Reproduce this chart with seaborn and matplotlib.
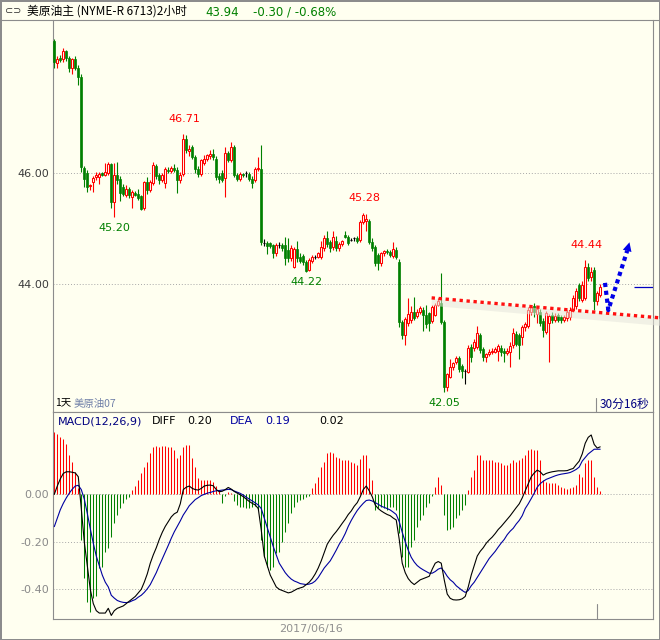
import numpy as np
import matplotlib
matplotlib.use('Agg')
import matplotlib.pyplot as plt
from matplotlib.lines import Line2D
import seaborn as sns

# 2-hour candles, NYMEX crude
opens = [48.38, 47.98, 48.08, 48.05, 48.20, 48.07, 47.90, 48.05, 47.90, 47.73,
         46.09, 46.00, 45.76, 45.84, 45.93, 45.92, 46.00, 45.97, 46.00, 46.16,
         45.47, 45.96, 45.90, 45.75, 45.60, 45.72, 45.57, 45.64, 45.62, 45.58,
         45.37, 45.84, 45.70, 45.82, 46.12, 45.97, 45.88, 45.82, 46.06, 46.04,
         46.09, 46.06, 45.87, 45.98, 46.61, 46.39, 46.46, 46.29, 46.08, 45.99,
         46.18, 46.26, 46.30, 46.35, 46.25, 45.95, 46.00, 45.91, 46.36, 46.24,
         46.47, 45.96, 45.90, 45.98, 46.00, 45.99, 45.90, 45.87, 46.07, 46.07,
         44.74, 44.74, 44.73, 44.70, 44.55, 44.70, 44.71, 44.70, 44.62, 44.47,
         44.30, 44.63, 44.49, 44.50, 44.40, 44.26, 44.42, 44.49, 44.49, 44.48,
         44.65, 44.83, 44.76, 44.66, 44.77, 44.64, 44.72, 44.88, 44.85, 44.80,
         44.82, 44.83, 44.80, 45.12, 45.14, 45.14, 44.76, 44.67, 44.52, 44.37,
         44.55, 44.60, 44.58, 44.50, 44.62, 44.40, 43.32, 43.08, 43.30, 43.36,
         43.50, 43.42, 43.50, 43.53, 43.45, 43.47, 43.33, 43.45, 43.63, 43.66,
         43.32, 42.15, 42.33, 42.50, 42.60, 42.66, 42.52, 42.43, 42.42, 42.87,
         42.84, 42.87, 43.08, 42.82, 42.68, 42.74, 42.77, 42.78, 42.80, 42.85,
         42.80, 42.76, 42.77, 42.90, 43.10, 43.08, 43.04, 43.22, 43.25, 43.50,
         43.60, 43.46, 43.50, 43.33, 43.14, 43.30, 43.45, 43.36, 43.44, 43.40,
         43.36, 43.38, 43.40, 43.53, 43.60, 43.98, 43.72, 43.75, 44.30, 44.12,
         44.25, 43.70, 43.80]
highs = [48.42, 48.10, 48.12, 48.25, 48.22, 48.10, 48.08, 48.10, 47.95, 47.78,
         46.12, 46.05, 45.80, 45.95, 46.02, 46.01, 46.02, 46.18, 46.20, 46.18,
         46.18, 46.20, 45.95, 45.80, 45.78, 45.75, 45.70, 45.68, 45.72, 45.60,
         45.86, 45.93, 45.87, 46.20, 46.16, 46.00, 46.00, 46.10, 46.10, 46.12,
         46.16, 46.10, 46.02, 46.71, 46.68, 46.50, 46.50, 46.32, 46.12, 46.26,
         46.32, 46.35, 46.41, 46.44, 46.30, 46.00, 46.05, 46.47, 46.40, 46.56,
         46.50, 46.00, 46.02, 46.00, 46.03, 46.02, 45.94, 46.10, 46.29, 46.50,
         44.81, 44.78, 44.76, 44.72, 44.74, 44.76, 44.74, 44.85, 44.82, 44.70,
         44.66, 44.78, 44.55, 44.54, 44.43, 44.46, 44.52, 44.52, 44.58, 44.78,
         44.88, 44.95, 44.80, 44.96, 44.86, 44.75, 44.80, 44.95, 44.88, 44.83,
         44.85, 44.86, 45.15, 45.28, 45.26, 45.18, 44.82, 44.70, 44.56, 44.58,
         44.62, 44.63, 44.62, 44.76, 44.66, 44.45, 43.36, 43.40, 43.75, 43.60,
         43.77, 43.55, 43.60, 43.58, 43.62, 43.50, 43.62, 43.66, 43.74, 44.20,
         43.35, 42.40, 42.65, 42.60, 42.70, 42.70, 42.56, 42.46, 42.90, 42.92,
         43.00, 43.25, 43.12, 42.86, 42.76, 42.82, 42.84, 42.86, 42.92, 42.90,
         42.84, 42.84, 42.95, 43.20, 43.15, 43.12, 43.26, 43.32, 43.58, 43.62,
         43.66, 43.60, 43.55, 43.38, 43.52, 43.46, 43.50, 43.47, 43.48, 43.44,
         43.44, 43.54, 43.58, 43.80, 43.92, 44.02, 44.05, 44.44, 44.38, 44.30,
         44.30, 43.88, 44.00]
lows = [47.90, 47.90, 48.00, 48.00, 48.02, 47.82, 47.78, 47.85, 47.58, 46.02,
        45.75, 45.66, 45.70, 45.66, 45.88, 45.80, 45.94, 45.94, 45.96, 45.37,
        45.20, 45.80, 45.50, 45.58, 45.56, 45.55, 45.37, 45.58, 45.52, 45.33,
        45.34, 45.62, 45.66, 45.78, 45.90, 45.80, 45.84, 45.73, 46.00, 46.00,
        46.02, 45.64, 45.82, 45.95, 46.36, 46.30, 46.25, 46.00, 45.93, 45.95,
        46.14, 46.22, 46.26, 46.24, 45.88, 45.82, 45.84, 45.57, 46.20, 46.20,
        45.92, 45.85, 45.86, 45.92, 45.92, 45.85, 45.73, 45.84, 46.04, 44.70,
        44.68, 44.54, 44.65, 44.46, 44.50, 44.65, 44.60, 44.35, 44.40, 44.42,
        44.28, 44.40, 44.38, 44.35, 44.22, 44.24, 44.38, 44.45, 44.46, 44.45,
        44.60, 44.66, 44.58, 44.62, 44.60, 44.60, 44.68, 44.82, 44.70, 44.77,
        44.78, 44.74, 44.76, 45.08, 44.95, 44.72, 44.60, 44.33, 44.25, 44.33,
        44.50, 44.54, 44.48, 44.46, 44.45, 43.23, 43.00, 42.90, 43.25, 43.30,
        43.35, 43.38, 43.46, 43.15, 43.20, 43.15, 43.30, 43.42, 43.60, 43.28,
        42.05, 42.08, 42.30, 42.45, 42.56, 42.42, 42.30, 42.20, 42.40, 42.60,
        42.80, 42.82, 42.75, 42.62, 42.60, 42.70, 42.74, 42.75, 42.62, 42.70,
        42.60, 42.72, 42.50, 42.85, 42.88, 42.65, 42.90, 43.15, 43.20, 43.45,
        43.40, 43.30, 43.25, 43.05, 43.10, 42.60, 43.30, 43.32, 43.32, 43.30,
        43.32, 43.34, 43.36, 43.50, 43.55, 43.70, 43.68, 43.72, 44.05, 44.05,
        43.53, 43.62, 43.76]
closes = [48.00, 48.06, 48.04, 48.20, 48.07, 47.90, 48.05, 47.90, 47.73, 46.10,
          45.90, 45.75, 45.79, 45.91, 45.97, 45.98, 45.97, 46.02, 46.16, 45.47,
          45.96, 45.87, 45.64, 45.62, 45.72, 45.60, 45.66, 45.61, 45.55, 45.35,
          45.84, 45.70, 45.84, 46.14, 45.94, 45.88, 45.97, 46.07, 46.04, 46.09,
          46.05, 45.87, 45.97, 46.61, 46.41, 46.43, 46.29, 46.07, 45.99, 46.23,
          46.25, 46.32, 46.35, 46.28, 45.92, 45.90, 45.88, 46.36, 46.24, 46.47,
          45.96, 45.90, 45.98, 45.96, 46.00, 45.90, 45.82, 46.07, 46.09, 44.76,
          44.74, 44.69, 44.69, 44.56, 44.71, 44.70, 44.65, 44.47, 44.46, 44.64,
          44.63, 44.47, 44.42, 44.40, 44.24, 44.43, 44.49, 44.49, 44.55, 44.67,
          44.83, 44.72, 44.65, 44.85, 44.64, 44.72, 44.77, 44.85, 44.73, 44.80,
          44.82, 44.77, 45.12, 45.24, 45.17, 44.76, 44.65, 44.38, 44.38, 44.55,
          44.60, 44.57, 44.52, 44.63, 44.49, 43.32, 43.08, 43.37, 43.46, 43.50,
          43.38, 43.50, 43.56, 43.45, 43.28, 43.30, 43.59, 43.63, 43.69, 43.32,
          42.15, 42.37, 42.50, 42.57, 42.67, 42.46, 42.44, 42.43, 42.85, 42.68,
          42.95, 43.12, 42.81, 42.68, 42.73, 42.78, 42.80, 42.83, 42.88, 42.77,
          42.76, 42.80, 42.88, 43.12, 42.92, 42.90, 43.22, 43.28, 43.53, 43.58,
          43.50, 43.55, 43.30, 43.17, 43.48, 43.42, 43.36, 43.43, 43.36, 43.35,
          43.40, 43.50, 43.53, 43.74, 43.88, 43.75, 43.98, 44.30, 44.10, 44.22,
          43.70, 43.83, 43.94]

# MACD(12,26,9) panel
diff = [0.000, 0.035, 0.065, 0.088, 0.095, 0.095, 0.093, 0.090, 0.074, -0.060,
        -0.200, -0.300, -0.400, -0.460, -0.490, -0.500, -0.500, -0.500, -0.480, -0.510,
        -0.490, -0.480, -0.475, -0.470, -0.460, -0.450, -0.440, -0.430, -0.415, -0.400,
        -0.370, -0.335, -0.290, -0.255, -0.225, -0.190, -0.160, -0.135, -0.115, -0.095,
        -0.082, -0.075, -0.040, 0.020, 0.030, 0.035, 0.025, 0.020, 0.018, 0.025,
        0.035, 0.038, 0.039, 0.036, 0.020, 0.011, 0.013, 0.020, 0.029, 0.022,
        0.012, 0.005, -0.002, -0.010, -0.020, -0.030, -0.038, -0.045, -0.060, -0.150,
        -0.260, -0.300, -0.340, -0.365, -0.390, -0.400, -0.405, -0.410, -0.415, -0.412,
        -0.405, -0.398, -0.394, -0.390, -0.380, -0.370, -0.355, -0.335, -0.310, -0.280,
        -0.245, -0.210, -0.190, -0.172, -0.157, -0.140, -0.122, -0.105, -0.085, -0.070,
        -0.050, -0.035, -0.010, 0.020, 0.035, 0.015, -0.010, -0.045, -0.060, -0.070,
        -0.078, -0.085, -0.090, -0.100, -0.108, -0.190, -0.290, -0.330, -0.355, -0.370,
        -0.380, -0.370, -0.360, -0.355, -0.350, -0.345, -0.315, -0.290, -0.283, -0.290,
        -0.360, -0.420, -0.438, -0.444, -0.445, -0.444, -0.440, -0.430, -0.390, -0.340,
        -0.300, -0.260, -0.240, -0.225, -0.206, -0.192, -0.180, -0.165, -0.148, -0.135,
        -0.120, -0.105, -0.090, -0.073, -0.056, -0.040, -0.015, 0.015, 0.045, 0.074,
        0.090, 0.102, 0.095, 0.081, 0.088, 0.092, 0.095, 0.097, 0.099, 0.099,
        0.099, 0.100, 0.105, 0.109, 0.125, 0.140, 0.170, 0.215, 0.240, 0.250,
        0.210, 0.195, 0.200]
dea = [-0.136, -0.100, -0.065, -0.038, -0.015, 0.005, 0.022, 0.035, 0.038, 0.020,
       -0.020, -0.080, -0.145, -0.206, -0.260, -0.300, -0.340, -0.370, -0.390, -0.425,
       -0.437, -0.447, -0.452, -0.455, -0.456, -0.454, -0.448, -0.443, -0.433, -0.425,
       -0.413, -0.398, -0.380, -0.355, -0.330, -0.300, -0.272, -0.243, -0.215, -0.185,
       -0.158, -0.135, -0.112, -0.087, -0.068, -0.048, -0.035, -0.022, -0.014, -0.005,
       0.000, 0.005, 0.008, 0.012, 0.015, 0.016, 0.018, 0.019, 0.021, 0.020,
       0.014, 0.009, 0.004, -0.003, -0.012, -0.020, -0.028, -0.036, -0.045, -0.060,
       -0.100, -0.140, -0.180, -0.220, -0.255, -0.290, -0.310, -0.330, -0.345, -0.357,
       -0.365, -0.370, -0.376, -0.378, -0.380, -0.378, -0.374, -0.365, -0.350, -0.330,
       -0.310, -0.295, -0.280, -0.258, -0.235, -0.210, -0.190, -0.165, -0.135, -0.110,
       -0.088, -0.068, -0.052, -0.038, -0.026, -0.024, -0.028, -0.035, -0.042, -0.050,
       -0.055, -0.060, -0.066, -0.075, -0.085, -0.115, -0.160, -0.200, -0.235, -0.265,
       -0.285, -0.300, -0.310, -0.318, -0.325, -0.332, -0.332, -0.325, -0.315, -0.310,
       -0.325, -0.345, -0.360, -0.370, -0.385, -0.395, -0.405, -0.413, -0.405, -0.385,
       -0.370, -0.350, -0.330, -0.310, -0.290, -0.270, -0.255, -0.240, -0.222, -0.205,
       -0.190, -0.170, -0.155, -0.143, -0.125, -0.110, -0.090, -0.060, -0.040, -0.018,
       0.005, 0.030, 0.045, 0.055, 0.063, 0.068, 0.073, 0.078, 0.082, 0.085,
       0.087, 0.089, 0.092, 0.098, 0.105, 0.115, 0.140, 0.155, 0.170, 0.180,
       0.190, 0.190, 0.190]
macd_bar = [0.263, 0.256, 0.242, 0.235, 0.214, 0.165, 0.137, 0.095, 0.025, -0.192,
            -0.353, -0.455, -0.497, -0.437, -0.430, -0.311, -0.304, -0.241, -0.227, -0.178,
            -0.122, -0.087, -0.059, -0.038, -0.018, -0.010, 0.018, 0.035, 0.060, 0.088,
            0.116, 0.137, 0.172, 0.200, 0.203, 0.200, 0.203, 0.203, 0.200, 0.200,
            0.186, 0.151, 0.165, 0.200, 0.206, 0.208, 0.151, 0.116, 0.067, 0.060,
            0.060, 0.060, 0.060, 0.053, 0.035, 0.018, -0.038, -0.005, 0.010, 0.005,
            -0.030, -0.045, -0.052, -0.055, -0.059, -0.059, -0.055, -0.049, -0.066, -0.193,
            -0.263, -0.305, -0.319, -0.305, -0.249, -0.241, -0.199, -0.157, -0.122, -0.080,
            -0.052, -0.031, -0.024, -0.021, -0.013, -0.005, 0.025, 0.046, 0.074, 0.116,
            0.137, 0.172, 0.179, 0.172, 0.158, 0.151, 0.144, 0.144, 0.144, 0.137,
            0.130, 0.123, 0.147, 0.165, 0.165, 0.109, 0.060, -0.066, -0.059, -0.052,
            -0.059, -0.066, -0.055, -0.052, -0.066, -0.164, -0.262, -0.304, -0.304, -0.220,
            -0.192, -0.136, -0.108, -0.087, -0.052, -0.038, -0.007, 0.032, 0.071, 0.039,
            -0.087, -0.150, -0.147, -0.136, -0.101, -0.087, -0.066, -0.045, 0.018, 0.074,
            0.102, 0.165, 0.165, 0.144, 0.144, 0.144, 0.144, 0.137, 0.137, 0.130,
            0.123, 0.123, 0.130, 0.144, 0.137, 0.144, 0.151, 0.165, 0.186, 0.193,
            0.186, 0.186, 0.144, 0.060, 0.053, 0.049, 0.046, 0.049, 0.039, 0.029,
            0.025, 0.021, 0.025, 0.029, 0.039, 0.085, 0.071, 0.130, 0.144, 0.144,
            0.071, 0.029, 0.015]

# labelled swing points (candle index)
peak_idx = [43, 103, 177]
trough_idx = [20, 84, 130]

# hand-drawn trend line and arrow (candle index, price)
trend_x = [125.8, 202.0]
trend_y = [43.75, 43.39]
arrow_x = [183.6, 184.7, 191.0]
arrow_y = [44.02, 43.53, 44.60]
arrow_tip = (192.0, 44.80)

price_ticks = [46.0, 44.0]
macd_ticks = [0.0, -0.2, -0.4]

bg = '#FFFFF0'
frame = '#8c8c8c'
up_col = '#FF0000'
dn_col = '#008000'

sns.set_style('white')
plt.rcParams['font.family'] = ['DejaVu Sans', 'Noto Sans CJK SC']
cjk = ['Noto Sans CJK SC', 'DejaVu Sans']

W, H = 660, 640


def fpos(px, py):
    return px / W, 1 - py / H


fig = plt.figure(figsize=(6.6, 6.4), dpi=100, facecolor=bg)
left, right = 53.3, 652.7
ax = fig.add_axes([left / W, 1 - 411.7 / H, (right - left) / W, (411.7 - 20) / H])
mx = fig.add_axes([left / W, 1 - 619 / H, (right - left) / W, (619 - 411.7) / H])

o, h, l, c = map(np.array, (opens, highs, lows, closes))
x = np.arange(len(c))
up = c > o
dn = c < o
fl = c == o

# candles
ax.vlines(x[up], l[up], h[up], color=up_col, lw=0.8, zorder=2)
ax.vlines(x[dn], l[dn], h[dn], color=dn_col, lw=0.8, zorder=2)
ax.vlines(x[fl], l[fl], h[fl], color='black', lw=0.8, zorder=2)
ax.bar(x[up], c[up] - o[up], bottom=o[up], width=0.62, facecolor=bg,
       edgecolor=up_col, lw=0.75, zorder=3)
ax.bar(x[dn], o[dn] - c[dn], bottom=c[dn], width=0.72, facecolor=dn_col,
       edgecolor=dn_col, lw=0.5, zorder=3)
ax.hlines(c[fl], x[fl] - 0.4, x[fl] + 0.4, color='black', lw=0.8, zorder=3)

for p in price_ticks:
    ax.axhline(p, color='#a8a8a8', lw=0.7, ls=(0, (1, 2)), zorder=1)

for i in peak_idx:
    ax.annotate(f'{h[i]:.2f}', (i, h[i]), xytext=(1, 7), textcoords='offset points',
                ha='center', va='bottom', color=up_col, fontsize=8)
for i in trough_idx:
    ax.annotate(f'{l[i]:.2f}', (i, l[i]), xytext=(0, -4), textcoords='offset points',
                ha='center', va='top', color=dn_col, fontsize=8)

# trend line with soft shadow
ax.plot(trend_x, [v - 0.08 for v in trend_y], color='#e6e6dc', lw=5, alpha=0.55,
        solid_capstyle='butt', clip_on=False, zorder=4)
ax.plot(trend_x, trend_y, color='#FF1010', lw=2.4, ls=(0, (1, 1.1)),
        dash_capstyle='butt', clip_on=False, zorder=5)
# blue dotted arrow
ax.plot(arrow_x, arrow_y, color='#0000E8', lw=3.0, ls=(0, (1, 0.9)),
        dash_capstyle='butt', clip_on=False, zorder=6)
ax.annotate('', xy=arrow_tip, xytext=(arrow_x[-1], arrow_y[-1]),
            arrowprops=dict(arrowstyle='-|>', color='#0000E8', lw=0,
                            mutation_scale=16), annotation_clip=False, zorder=6)
# last price marker
ax.hlines(c[-1], 193.2, 199.5, color='#0000C0', lw=0.9, zorder=6)
ax.axvline(180.6, ymin=0, ymax=0.035, color=frame, lw=0.8)

ax.set_xlim(-0.33, 199.5)
ax.set_ylim(41.699, 48.757)
ax.set_xticks([])
ax.set_yticks(price_ticks, [f'{p:.2f}' for p in price_ticks])
ax.tick_params(axis='y', length=0, pad=3, labelsize=8, labelcolor='#3c3c3c')
ax.set_facecolor(bg)
for s in ax.spines.values():
    s.set_color(frame)
    s.set_linewidth(0.8)
ax.spines['top'].set_visible(False)

# MACD panel
hb = np.array(macd_bar)
mx.vlines(x[hb > 0], 0, hb[hb > 0], color=up_col, lw=0.75, zorder=2)
mx.vlines(x[hb < 0], 0, hb[hb < 0], color=dn_col, lw=0.75, zorder=2)
sns.lineplot(x=x, y=diff, ax=mx, color='black', lw=0.8, zorder=4)
sns.lineplot(x=x, y=dea, ax=mx, color='#0000A0', lw=0.8, zorder=3)
for v in macd_ticks:
    mx.axhline(v, color='#a8a8a8', lw=0.7, ls=(0, (1, 2)), zorder=1)
mx.axvline(180.9, ymin=0, ymax=0.07, color=frame, lw=0.8)
mx.set_xlim(-0.33, 199.5)
mx.set_ylim(-0.525, 0.348)
mx.set_xticks([])
mx.set_yticks(macd_ticks, [f'{v:.2f}' for v in macd_ticks])
mx.tick_params(axis='y', length=0, pad=3, labelsize=8, labelcolor='#8a8a8a')
mx.set_xlabel('')
mx.set_ylabel('')
mx.set_facecolor(bg)
for s in mx.spines.values():
    s.set_color(frame)
    s.set_linewidth(0.8)

# header
fig.add_artist(Line2D([0, 1], [1 - 20 / H] * 2, transform=fig.transFigure,
                      color=frame, lw=0.8))
fig.text(*fpos(5, 11), '⊂⊃', fontsize=7, color='#303030', va='center')
fig.text(*fpos(27, 11), '美原油主 (NYME-R 6713)2小时', family=cjk, fontsize=8.5,
         color='black', va='center')
fig.text(*fpos(205, 12), f'{c[-1]:.2f}', fontsize=8.5, color=dn_col, va='center')
fig.text(*fpos(253, 12), '-0.30 / -0.68%', fontsize=8.5, color=dn_col, va='center')

# panel captions
fig.text(*fpos(74, 404), '美原油07', family=cjk, fontsize=7.5, color='#7080a8', va='center')
fig.text(*fpos(55, 402), '1天', family=cjk, fontsize=7.5, color='black', va='center')
fig.text(*fpos(600, 404), '30分16秒', family=cjk, fontsize=8.5, color='#000080', va='center')
fig.text(*fpos(58, 421), 'MACD(12,26,9)', fontsize=8, color='#000080', va='center')
fig.text(*fpos(152, 421), 'DIFF', fontsize=8, color='black', va='center')
fig.text(*fpos(187, 421), f'{diff[-1]:.2f}', fontsize=8, color='black', va='center')
fig.text(*fpos(230, 421), 'DEA', fontsize=8, color='#0000A0', va='center')
fig.text(*fpos(265, 421), f'{dea[-1]:.2f}', fontsize=8, color='#0000A0', va='center')
fig.text(*fpos(319, 421), '0.02', fontsize=8, color='black', va='center')
fig.text(*fpos(311, 629), '2017/06/16', fontsize=8, color='#909090', ha='center', va='center')

fig.patch.set_edgecolor(frame)
fig.patch.set_linewidth(2)
fig.savefig('out.png', dpi=100, facecolor=fig.get_facecolor(), edgecolor=fig.get_edgecolor())
